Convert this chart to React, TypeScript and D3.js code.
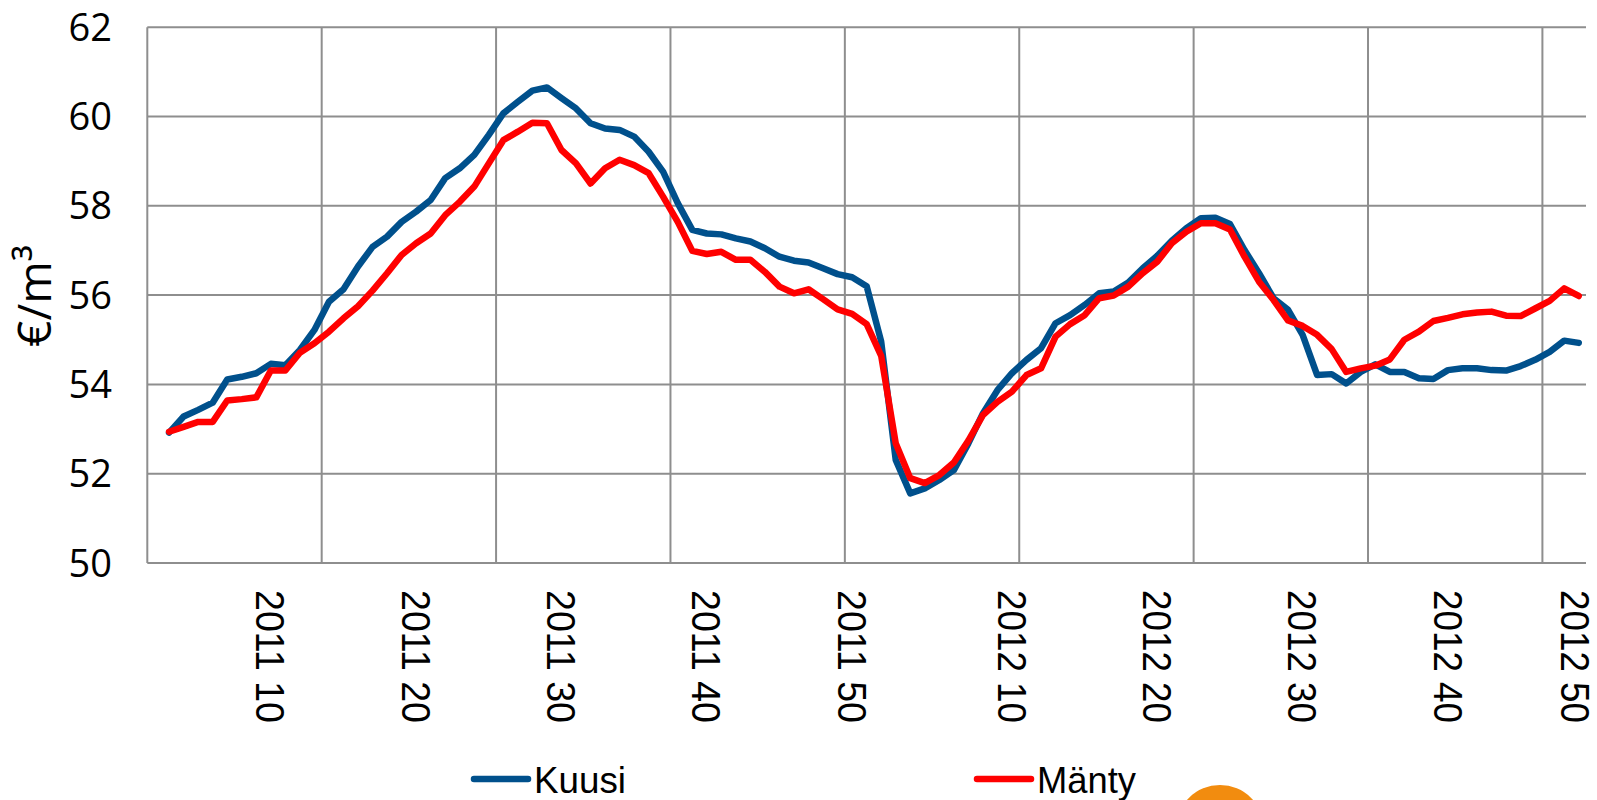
import React from 'react';
import * as d3 from 'd3';

// Week categories (one week missing around the turn of the year and in late 2012)
const weeks2011: number[] = d3.range(2, 52);
const weeks2012: number[] = [...d3.range(1, 41), ...d3.range(42, 51)];
const categories: string[] = [
  ...weeks2011.map((w) => `2011 ${w}`),
  ...weeks2012.map((w) => `2012 ${w}`),
];
// Data begins at the second category
const dataCategories: string[] = categories.slice(1);

const tickLabels: string[] = [
  '2011 10', '2011 20', '2011 30', '2011 40', '2011 50',
  '2012 10', '2012 20', '2012 30', '2012 40', '2012 50',
];

const yTicks: number[] = [50, 52, 54, 56, 58, 60, 62];

const kuusi: number[] = [
  52.92, 53.28, 53.43, 53.59, 54.11, 54.17, 54.25, 54.46, 54.43, 54.77,
  55.22, 55.85, 56.13, 56.64, 57.08, 57.31, 57.64, 57.87, 58.13, 58.62,
  58.84, 59.14, 59.59, 60.07, 60.33, 60.58, 60.65, 60.41, 60.18, 59.85,
  59.73, 59.70, 59.55, 59.21, 58.76, 58.06, 57.46, 57.38, 57.36, 57.27,
  57.20, 57.05, 56.86, 56.77, 56.73, 56.60, 56.47, 56.40, 56.20, 54.96,
  52.31, 51.56, 51.67, 51.86, 52.08, 52.68, 53.35, 53.87, 54.25, 54.55,
  54.81, 55.37, 55.55, 55.78, 56.04, 56.08, 56.28, 56.60, 56.88, 57.22,
  57.50, 57.72, 57.73, 57.59, 57.01, 56.49, 55.93, 55.67, 55.11, 54.21,
  54.23, 54.02, 54.28, 54.45, 54.28, 54.28, 54.14, 54.12, 54.32, 54.36,
  54.36, 54.32, 54.31, 54.41, 54.55, 54.73, 54.98, 54.93,
];

const manty: number[] = [
  52.94, 53.05, 53.16, 53.16, 53.64, 53.67, 53.71, 54.31, 54.31, 54.71,
  54.92, 55.18, 55.48, 55.75, 56.10, 56.49, 56.90, 57.16, 57.38, 57.79,
  58.09, 58.43, 58.95, 59.47, 59.66, 59.86, 59.85, 59.25, 58.95, 58.50,
  58.84, 59.03, 58.91, 58.73, 58.20, 57.64, 56.99, 56.92, 56.97, 56.79,
  56.79, 56.52, 56.19, 56.04, 56.13, 55.91, 55.68, 55.58, 55.35, 54.64,
  52.68, 51.90, 51.79, 51.97, 52.25, 52.74, 53.31, 53.61, 53.84, 54.21,
  54.36, 55.07, 55.35, 55.55, 55.93, 55.99, 56.19, 56.49, 56.75, 57.16,
  57.42, 57.61, 57.61, 57.47, 56.86, 56.30, 55.89, 55.43, 55.31, 55.11,
  54.79, 54.28, 54.36, 54.42, 54.56, 55.00, 55.18, 55.42, 55.49, 55.57,
  55.61, 55.63, 55.54, 55.53, 55.70, 55.87, 56.15, 55.98,
];

const seriesNames: string[] = ['Kuusi', 'Mänty'];
const seriesColors: string[] = ['#00508C', '#FF0000'];

export default function App() {
  const W = 1597;
  const H = 800;
  const plotLeft = 147.3;
  const plotRight = 1586;
  const plotTop = 27.2;
  const plotBottom = 563;

  const x = d3
    .scaleBand<string>()
    .domain(categories)
    .range([plotLeft, plotRight])
    .paddingInner(0)
    .paddingOuter(0);
  const bw = x.bandwidth();
  const cx = (c: string) => (x(c) as number) + bw / 2;
  const y = d3.scaleLinear().domain([50, 62]).range([plotBottom, plotTop]);

  const line = d3
    .line<number>()
    .x((_, i) => cx(dataCategories[i]))
    .y((d) => y(d));

  const gridColor = '#8E8E8E';
  const vGrid = categories.filter((_, i) => i % 12 === 0).map((c) => x(c) as number);

  const series = [kuusi, manty];

  const legendItems = [
    { x0: 474, x1: 528, tx: 534, len: 92 },
    { x0: 977, x1: 1031, tx: 1037, len: 99 },
  ];

  // labels are kept inside the picture, as the reference does with the last one
  const labelX = (lab: string) => Math.min(cx(lab), W - 22);

  return (
    <svg
      width={W}
      height={H}
      viewBox={`0 0 ${W} ${H}`}
      style={{ position: 'absolute', left: 0, top: 0, background: '#fff' }}
    >
      <rect x={0} y={0} width={W} height={H} fill="#fff" />
      {/* horizontal gridlines */}
      {yTicks.map((t) => (
        <line
          key={`h${t}`}
          x1={plotLeft}
          x2={plotRight}
          y1={y(t)}
          y2={y(t)}
          stroke={gridColor}
          strokeWidth={2}
        />
      ))}
      {/* vertical gridlines */}
      {vGrid.map((gx, i) => (
        <line
          key={`v${i}`}
          x1={gx}
          x2={gx}
          y1={plotTop}
          y2={plotBottom}
          stroke={gridColor}
          strokeWidth={2}
        />
      ))}
      {/* y tick labels */}
      {yTicks.map((t) => (
        <text
          key={`yl${t}`}
          x={112}
          y={y(t)}
          dy="0.36em"
          textAnchor="end"
          fontFamily="'Open Sans', sans-serif"
          fontSize={38}
          fill="#000"
        >
          {t}
        </text>
      ))}
      {/* y axis title */}
      <text
        transform={`translate(51, 296) rotate(-90)`}
        textAnchor="middle"
        fontFamily="'Open Sans', sans-serif"
        fontSize={46}
        fill="#000"
      >
        €/m³
      </text>
      {/* x tick labels */}
      {tickLabels.map((lab) => (
        <text
          key={lab}
          transform={`translate(${labelX(lab)}, 590) rotate(90)`}
          dy="0.36em"
          fontFamily="'Liberation Sans', Arial, sans-serif"
          fontSize={40}
          textLength={133}
          lengthAdjust="spacingAndGlyphs"
          fill="#000"
        >
          {lab}
        </text>
      ))}
      {/* series lines */}
      {series.map((s, k) => (
        <path
          key={seriesNames[k]}
          d={line(s) || ''}
          fill="none"
          stroke={seriesColors[k]}
          strokeWidth={6.5}
          strokeLinejoin="round"
          strokeLinecap="round"
        />
      ))}
      {/* legend */}
      {legendItems.map((it, k) => (
        <g key={`lg${k}`}>
          <line
            x1={it.x0}
            x2={it.x1}
            y1={779}
            y2={779}
            stroke={seriesColors[k]}
            strokeWidth={6.5}
            strokeLinecap="round"
          />
          <text
            x={it.tx}
            y={793}
            fontFamily="'Liberation Sans', Arial, sans-serif"
            fontSize={37}
            textLength={it.len}
            lengthAdjust="spacingAndGlyphs"
            fill="#000"
          >
            {seriesNames[k]}
          </text>
        </g>
      ))}
      {/* orange logo circle, partially visible */}
      <circle cx={1220} cy={829} r={44} fill="#F28C0F" />
    </svg>
  );
}
